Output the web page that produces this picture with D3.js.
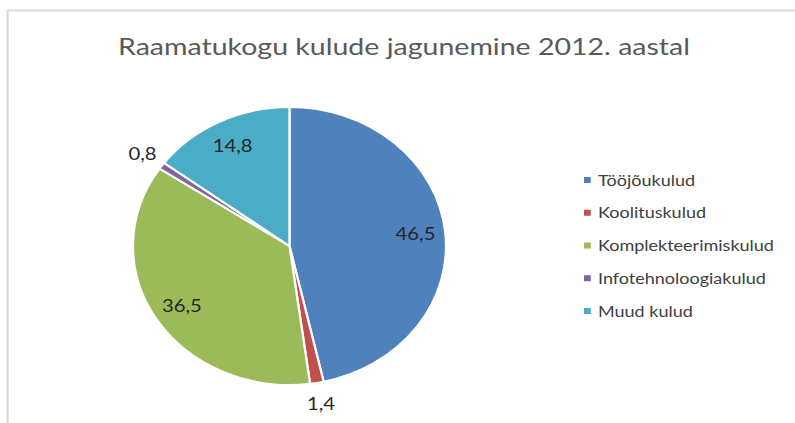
<!DOCTYPE html>
<html><head><meta charset="utf-8">
<script src="https://cdn.jsdelivr.net/npm/d3@7"></script>
<style>html,body{margin:0;padding:0;background:#fff;overflow:hidden}</style>
</head><body>
<script>
const categories = ["Tööjõukulud","Koolituskulud","Komplekteerimiskulud","Infotehnoloogiakulud","Muud kulud"];
const values = [46.5, 1.4, 36.5, 0.8, 14.8];
const colors = ["#4F81BD","#C0504D","#9BBB59","#8064A2","#4BACC6"];
const labelOutside = [false, true, false, true, false];
const title = "Raamatukogu kulude jagunemine 2012. aastal";

const W = 795, H = 423, SX = 1.126;
const VW = W / SX;
const svg = d3.select("body").append("svg")
  .attr("width", W).attr("height", H)
  .attr("viewBox", `0 0 ${VW} ${H}`)
  .attr("preserveAspectRatio", "none");

svg.append("rect").attr("width", VW).attr("height", H).attr("fill", "#fff");
// chart border (top and left visible)
svg.append("line").attr("x1", 6.7).attr("x2", VW).attr("y1", 10.5).attr("y2", 10.5)
  .attr("stroke", "#d9d9d9").attr("stroke-width", 2);
svg.append("line").attr("x1", 6.7).attr("x2", 6.7).attr("y1", 10).attr("y2", H)
  .attr("stroke", "#d9d9d9").attr("stroke-width", 2);

svg.append("text").attr("x", 404 / SX).attr("y", 55)
  .attr("text-anchor", "middle")
  .attr("font-family", "Lato, 'Open Sans', sans-serif")
  .attr("font-size", 24).attr("fill", "#595959")
  .attr("textLength", 508).attr("lengthAdjust", "spacingAndGlyphs")
  .text(title);

const cx = 289.5 / SX, cy = 246, r = 139;
const pie = d3.pie().sort(null).value(d => d)(values);
const arc = d3.arc().innerRadius(0).outerRadius(r);
const g = svg.append("g").attr("transform", `translate(${cx},${cy})`);
g.selectAll("path").data(pie).join("path")
  .attr("d", arc)
  .attr("fill", (d, i) => colors[i])
  .attr("stroke", "#fff").attr("stroke-width", 2);

const fmt = v => String(v).replace(".", ",");
g.selectAll("text.lbl").data(pie).join("text").attr("class", "lbl")
  .attr("x", (d, i) => { const a = (d.startAngle + d.endAngle) / 2; return Math.sin(a) * r * (labelOutside[i] ? 1.15 : 0.81); })
  .attr("y", (d, i) => { const a = (d.startAngle + d.endAngle) / 2; return -Math.cos(a) * r * (labelOutside[i] ? 1.15 : 0.81); })
  .attr("dy", "0.35em")
  .attr("text-anchor", "middle")
  .attr("font-family", "Lato, 'Open Sans', sans-serif")
  .attr("font-size", 18).attr("fill", "#262626")
  .text((d, i) => fmt(values[i]));

const leg = svg.append("g");
const legY = d3.scalePoint().domain(categories).range([180, 311]);
const rows = leg.selectAll("g").data(categories).join("g")
  .attr("transform", d => `translate(${584 / SX},${legY(d)})`);
rows.append("rect").attr("x", 0).attr("y", -3).attr("width", 6).attr("height", 6)
  .attr("fill", (d, i) => colors[i]);
rows.append("text").attr("x", (598 - 584) / SX).attr("dy", "0.35em")
  .attr("font-family", "Lato, 'Open Sans', sans-serif")
  .attr("font-size", 16).attr("fill", "#404040")
  .text(d => d);
</script>
</body></html>
